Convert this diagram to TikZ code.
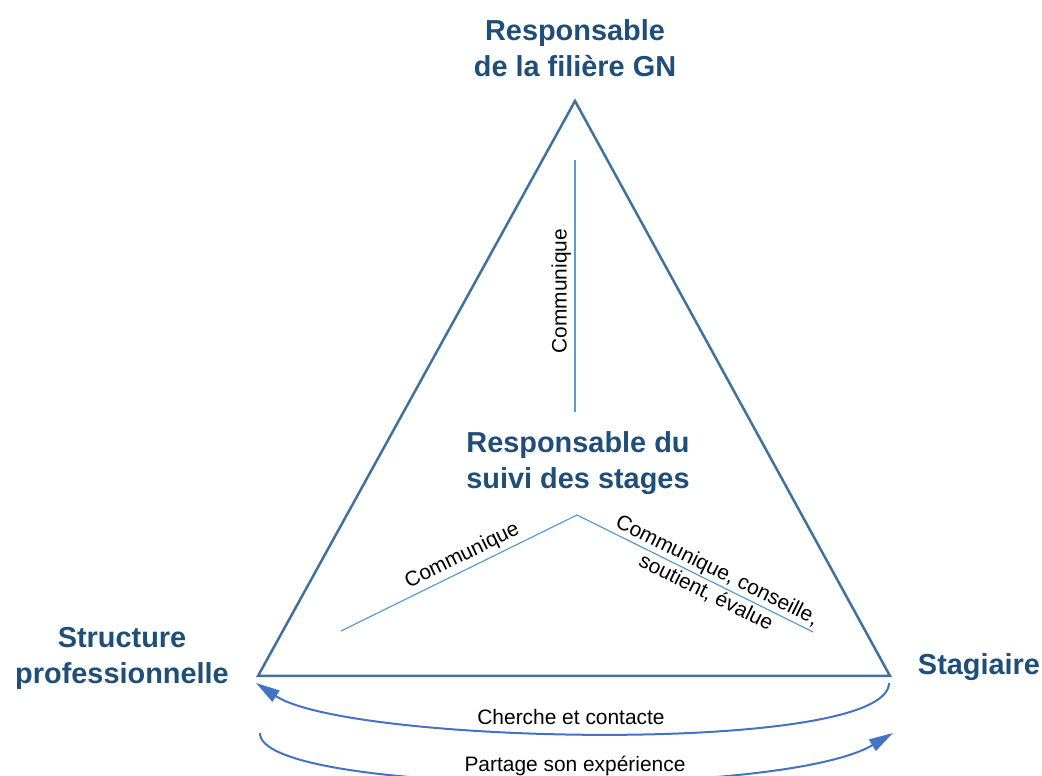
\documentclass[tikz,border=0pt]{standalone}
\usepackage{fontspec}
\setmainfont{Liberation Sans}
\usetikzlibrary{arrows.meta}
\definecolor{titleblue}{RGB}{31,78,121}
\definecolor{edgeblue}{RGB}{65,113,156}
\definecolor{linkblue}{RGB}{91,155,213}
\definecolor{arcblue}{RGB}{68,114,196}

\begin{document}
\begin{tikzpicture}[>={Triangle[length=24bp,width=13bp]}, x=1bp, y=1bp]
 \tikzstyle{actor}=[text=titleblue,font=\fontsize{29}{36}\selectfont\bfseries,align=center,inner sep=0pt]
 \tikzstyle{verb}=[font=\fontsize{21}{25}\selectfont,align=center]
 \tikzstyle{link}=[draw=linkblue,line width=1.2bp]
 \tikzstyle{arc}=[draw=arcblue,line width=2bp]
 \useasboundingbox (0,0) rectangle (1042,776);

 \coordinate (top) at (575,675);
 \coordinate (left) at (258,100);
 \coordinate (right) at (890,100);
 \coordinate (vlow) at (575,364);
 \coordinate (vhigh) at (575,616);
 \coordinate (hub) at (577,261);
 \coordinate (hubleft) at (341,145);
 \coordinate (hubright) at (813,144);

 \node (filiere) at (575,728) [actor] {Responsable\\de la filière GN};
 \node (suivi) at (578,313) [actor] {Responsable du\\suivi des stages};
 \node (structure) at (122,118) [actor] {Structure\\professionnelle};
 \node (stagiaire) at (979,109) [actor] {Stagiaire};

 \draw [edgeblue,line width=2.5bp] (top) -- (left) -- (right) -- cycle;

 \draw [link] (vlow) to node[pos=0.48,sloped,above,verb] {Communique} (vhigh);
 \draw [link] (hubleft) to node[pos=0.54,sloped,above,verb] {Communique} (hub);
 \draw [link] (hub) to node[pos=0.57,sloped,verb] {Communique, conseille,\\soutient, évalue} (hubright);

 % arcs under the triangle
 \coordinate (srcA) at (889,93);
 \coordinate (dstA) at (256,93);
 \coordinate (srcB) at (260,43);
 \coordinate (dstB) at (893,43);
 \draw [->,arc] (srcA) .. controls +(0,-72) and +(94,-62) .. (dstA);
 \draw [->,arc] (srcB) .. controls +(-2,-62) and +(-113,-67) .. (dstB);
 \node (cherche) at (571,59) [verb] {Cherche et contacte};
 \node (partage) at (575,10) [verb,fill=white,inner sep=1bp] {Partage son expérience};

\end{tikzpicture}
\end{document}
